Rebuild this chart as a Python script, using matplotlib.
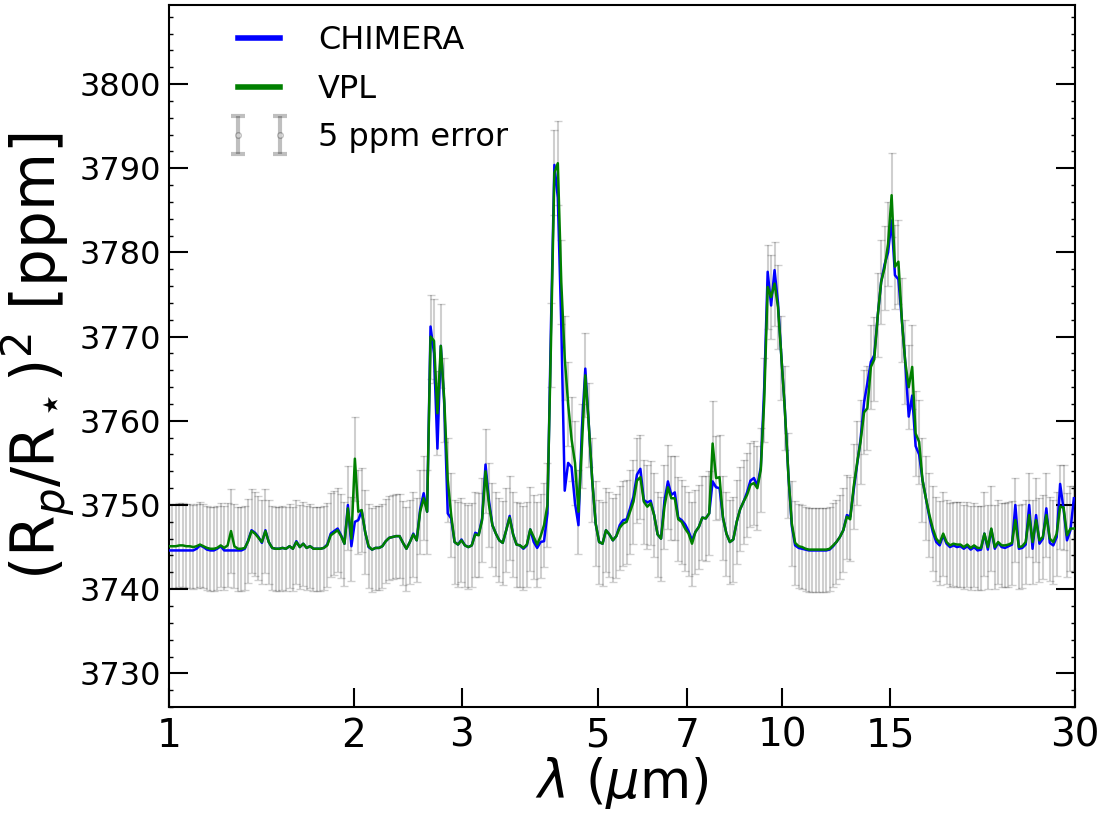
import matplotlib
matplotlib.use("Agg")
import matplotlib.pyplot as plt
from matplotlib.ticker import MultipleLocator, NullLocator, FixedLocator
from matplotlib.legend_handler import HandlerErrorbar
from matplotlib.container import ErrorbarContainer

wavelength = [
    1.000, 1.013, 1.026, 1.040, 1.053, 1.067, 1.081, 1.095, 1.109, 1.123, 1.138, 1.153, 1.168, 1.183, 1.198, 1.214, 1.230, 1.246, 1.262, 1.278,
    1.295, 1.312, 1.329, 1.346, 1.363, 1.381, 1.399, 1.417, 1.436, 1.454, 1.473, 1.492, 1.512, 1.531, 1.551, 1.572, 1.592, 1.613, 1.634, 1.655,
    1.676, 1.698, 1.720, 1.743, 1.765, 1.788, 1.811, 1.835, 1.859, 1.883, 1.908, 1.932, 1.957, 1.983, 2.009, 2.035, 2.061, 2.088, 2.115, 2.143,
    2.171, 2.199, 2.227, 2.256, 2.286, 2.315, 2.345, 2.376, 2.407, 2.438, 2.470, 2.502, 2.534, 2.567, 2.601, 2.635, 2.669, 2.704, 2.739, 2.774,
    2.810, 2.847, 2.884, 2.921, 2.959, 2.998, 3.037, 3.076, 3.116, 3.157, 3.198, 3.239, 3.281, 3.324, 3.367, 3.411, 3.455, 3.500, 3.546, 3.592,
    3.639, 3.686, 3.734, 3.782, 3.832, 3.881, 3.932, 3.983, 4.035, 4.087, 4.140, 4.194, 4.249, 4.304, 4.360, 4.417, 4.474, 4.532, 4.591, 4.651,
    4.711, 4.772, 4.835, 4.897, 4.961, 5.026, 5.091, 5.157, 5.224, 5.292, 5.361, 5.430, 5.501, 5.573, 5.645, 5.718, 5.793, 5.868, 5.944, 6.022,
    6.100, 6.179, 6.260, 6.341, 6.423, 6.507, 6.591, 6.677, 6.764, 6.852, 6.941, 7.031, 7.123, 7.215, 7.309, 7.404, 7.500, 7.598, 7.696, 7.797,
    7.898, 8.001, 8.105, 8.210, 8.317, 8.425, 8.534, 8.645, 8.758, 8.872, 8.987, 9.104, 9.222, 9.342, 9.463, 9.586, 9.711, 9.837, 9.965, 10.09,
    10.23, 10.36, 10.49, 10.63, 10.77, 10.91, 11.05, 11.19, 11.34, 11.49, 11.64, 11.79, 11.94, 12.10, 12.25, 12.41, 12.57, 12.74, 12.90, 13.07,
    13.24, 13.41, 13.59, 13.76, 13.94, 14.12, 14.31, 14.49, 14.68, 14.87, 15.07, 15.26, 15.46, 15.66, 15.86, 16.07, 16.28, 16.49, 16.71, 16.92,
    17.14, 17.37, 17.59, 17.82, 18.05, 18.29, 18.52, 18.76, 19.01, 19.26, 19.51, 19.76, 20.02, 20.28, 20.54, 20.81, 21.08, 21.35, 21.63, 21.91,
    22.20, 22.48, 22.78, 23.07, 23.37, 23.68, 23.98, 24.30, 24.61, 24.93, 25.26, 25.58, 25.92, 26.25, 26.59, 26.94, 27.29, 27.65, 28.01, 28.37,
    28.74, 29.11, 29.49, 29.87,
]

chimera_ppm = [
    3744.6, 3744.6, 3744.6, 3744.6, 3744.6, 3744.6, 3744.6, 3744.6, 3744.8, 3745.2, 3745.0, 3744.7, 3744.6, 3744.6, 3744.8, 3745.1, 3744.6, 3744.6, 3744.6, 3744.6,
    3744.6, 3744.6, 3744.8, 3745.8, 3747.0, 3746.7, 3746.2, 3745.5, 3747.0, 3745.6, 3744.9, 3744.8, 3744.8, 3744.9, 3744.8, 3745.1, 3744.8, 3745.7, 3745.0, 3745.4,
    3744.9, 3745.1, 3744.8, 3744.8, 3744.8, 3744.9, 3745.3, 3746.6, 3746.9, 3747.2, 3746.4, 3745.4, 3750.0, 3745.1, 3748.0, 3748.2, 3749.3, 3746.8, 3745.0, 3744.7,
    3744.9, 3744.9, 3745.1, 3745.7, 3746.1, 3746.2, 3746.3, 3746.3, 3745.5, 3744.8, 3745.6, 3746.6, 3745.8, 3749.5, 3751.4, 3749.2, 3771.2, 3768.0, 3756.7, 3768.9,
    3762.0, 3749.0, 3748.4, 3745.6, 3745.3, 3745.9, 3745.2, 3745.0, 3745.2, 3746.7, 3746.5, 3748.4, 3754.8, 3750.5, 3747.6, 3746.6, 3745.8, 3745.5, 3747.0, 3748.7,
    3746.5, 3745.3, 3745.2, 3744.8, 3745.2, 3747.1, 3745.6, 3744.9, 3745.6, 3745.7, 3749.0, 3771.0, 3790.4, 3786.5, 3771.5, 3751.7, 3755.0, 3754.5, 3750.2, 3747.6,
    3759.0, 3766.2, 3759.5, 3753.0, 3747.8, 3745.6, 3745.4, 3747.0, 3746.5, 3745.8, 3746.3, 3747.6, 3748.2, 3748.3, 3749.6, 3751.0, 3753.6, 3754.3, 3750.6, 3750.3,
    3750.5, 3748.8, 3746.5, 3746.0, 3750.5, 3752.8, 3751.2, 3751.5, 3748.5, 3748.2, 3747.7, 3746.9, 3745.8, 3746.8, 3747.4, 3748.5, 3748.4, 3749.0, 3752.8, 3752.1,
    3752.0, 3748.5, 3746.6, 3745.6, 3745.9, 3748.0, 3749.5, 3750.4, 3751.5, 3752.9, 3753.2, 3752.3, 3754.5, 3764.0, 3777.7, 3773.7, 3777.9, 3774.0, 3767.5, 3761.5,
    3753.5, 3747.5, 3745.2, 3744.9, 3744.8, 3744.7, 3744.6, 3744.6, 3744.6, 3744.6, 3744.6, 3744.6, 3744.7, 3745.1, 3745.6, 3746.2, 3747.0, 3748.8, 3748.6, 3751.8,
    3754.8, 3757.8, 3762.2, 3764.5, 3767.0, 3767.8, 3772.6, 3776.5, 3778.6, 3780.0, 3783.8, 3777.3, 3776.8, 3772.0, 3767.0, 3760.5, 3763.0, 3757.0, 3756.0, 3753.0,
    3750.8, 3748.5, 3746.8, 3745.6, 3745.2, 3746.4, 3745.4, 3745.0, 3745.2, 3745.0, 3745.1, 3744.8, 3745.1, 3744.7, 3745.0, 3744.6, 3744.7, 3746.6, 3744.7, 3747.1,
    3744.8, 3745.5, 3745.0, 3744.9, 3745.1, 3745.3, 3750.0, 3744.8, 3744.9, 3745.3, 3750.0, 3744.8, 3748.8, 3745.4, 3746.0, 3749.6, 3745.5, 3745.2, 3746.2, 3752.5,
    3749.5, 3745.8, 3747.0, 3750.8,
]

vpl_ppm = [
    3745.1, 3745.1, 3745.1, 3745.2, 3745.2, 3745.1, 3745.1, 3745.0, 3745.1, 3745.3, 3745.1, 3744.9, 3744.8, 3744.8, 3744.9, 3745.2, 3744.9, 3745.2, 3746.9, 3745.1,
    3744.8, 3744.8, 3744.9, 3745.7, 3746.9, 3746.6, 3746.1, 3745.6, 3746.9, 3745.6, 3744.9, 3744.8, 3744.8, 3744.9, 3744.8, 3745.1, 3744.8, 3745.6, 3745.0, 3745.4,
    3744.9, 3745.1, 3744.8, 3744.8, 3744.8, 3744.9, 3745.2, 3746.4, 3746.7, 3747.0, 3746.3, 3745.4, 3749.6, 3746.0, 3755.5, 3749.2, 3749.4, 3746.8, 3745.1, 3744.7,
    3744.9, 3744.9, 3745.1, 3745.7, 3746.1, 3746.2, 3746.3, 3746.3, 3745.5, 3744.8, 3745.6, 3746.5, 3745.8, 3749.2, 3750.8, 3749.2, 3770.0, 3769.5, 3760.9, 3768.9,
    3762.5, 3753.0, 3748.8, 3745.6, 3745.3, 3745.8, 3745.2, 3745.0, 3745.2, 3746.5, 3746.4, 3748.2, 3754.0, 3750.0, 3747.6, 3746.6, 3745.8, 3745.5, 3747.0, 3748.5,
    3746.5, 3745.3, 3745.2, 3744.9, 3745.3, 3747.1, 3746.2, 3745.3, 3746.3, 3747.6, 3750.0, 3769.0, 3789.5, 3790.6, 3776.5, 3767.5, 3762.0, 3757.8, 3755.0, 3749.2,
    3757.0, 3765.4, 3759.5, 3753.0, 3747.8, 3745.6, 3745.4, 3747.0, 3746.5, 3745.8, 3746.3, 3747.3, 3747.8, 3748.0, 3749.2, 3750.4, 3752.9, 3753.3, 3750.4, 3749.8,
    3750.2, 3748.8, 3746.5, 3746.0, 3749.8, 3752.1, 3750.8, 3750.8, 3748.3, 3748.0, 3747.2, 3746.6, 3745.4, 3746.8, 3747.4, 3748.5, 3748.4, 3749.0, 3757.3, 3753.2,
    3753.3, 3748.5, 3746.6, 3745.6, 3745.9, 3748.0, 3749.5, 3750.4, 3751.2, 3752.4, 3752.6, 3752.0, 3754.2, 3762.5, 3775.9, 3774.7, 3776.3, 3773.5, 3767.5, 3761.5,
    3753.5, 3747.8, 3745.5, 3745.1, 3745.0, 3744.8, 3744.7, 3744.7, 3744.7, 3744.7, 3744.7, 3744.7, 3744.8, 3745.2, 3745.6, 3746.2, 3747.0, 3748.6, 3748.3, 3752.2,
    3755.0, 3757.5, 3761.0, 3761.5, 3766.4, 3767.3, 3772.6, 3776.5, 3778.2, 3781.0, 3786.8, 3778.3, 3778.9, 3772.0, 3767.0, 3764.0, 3766.4, 3758.5, 3757.5, 3753.0,
    3750.8, 3748.8, 3747.2, 3746.0, 3745.5, 3746.6, 3745.6, 3745.2, 3745.4, 3745.3, 3745.3, 3745.0, 3745.3, 3744.9, 3745.2, 3744.9, 3744.9, 3746.6, 3745.0, 3747.2,
    3745.0, 3745.6, 3745.2, 3745.2, 3745.3, 3745.5, 3748.2, 3745.0, 3745.1, 3745.6, 3748.8, 3745.6, 3748.2, 3745.8, 3746.2, 3748.8, 3746.0, 3745.6, 3746.6, 3749.8,
    3749.7, 3746.4, 3747.2, 3747.2,
]

error_ppm = 5.0

x_ticks = [1, 2, 3, 5, 7, 10, 15, 30]
x_tick_labels = ["1", "2", "3", "5", "7", "10", "15", "30"]

assert len(wavelength) == len(chimera_ppm) == len(vpl_ppm)

fig = plt.figure(figsize=(11.07, 8.15), dpi=100)
ax = fig.add_axes([0.1527, 0.1325, 0.8184, 0.8614])

ax.errorbar(wavelength, vpl_ppm, yerr=error_ppm, fmt="none", ecolor="k",
            alpha=0.19, elinewidth=1.5, capsize=3, capthick=1.0, zorder=1)
ax.plot(wavelength, chimera_ppm, color="b", lw=1.8, zorder=3)
ax.plot(wavelength, vpl_ppm, color="g", lw=1.8, zorder=4)

# legend proxies (outside the visible range)
h1, = ax.plot([0.1, 0.11], [3700, 3700], color="b", lw=4, label="CHIMERA")
h2, = ax.plot([0.1, 0.11], [3700, 3700], color="g", lw=4, label="VPL")
h3 = ax.errorbar([0.1], [3700], yerr=[error_ppm], fmt="o", color="k", ms=4,
                 mfc="w", alpha=0.25, elinewidth=3, capsize=5, capthick=3,
                 label="5 ppm error")

ax.set_xscale("log")
ax.set_xlim(1, 30)
ax.set_ylim(3726, 3809.4)

ax.xaxis.set_major_locator(FixedLocator(x_ticks))
ax.set_xticklabels(x_tick_labels)
ax.xaxis.set_minor_locator(NullLocator())
ax.yaxis.set_major_locator(MultipleLocator(10))
ax.yaxis.set_minor_locator(MultipleLocator(2))

ax.tick_params(axis="both", which="major", direction="in", length=14, width=1.5,
               right=True, top=False)
ax.tick_params(axis="both", which="minor", direction="in", length=3, width=1.0,
               right=True, top=False)
ax.tick_params(axis="y", labelsize=23, pad=6)
ax.tick_params(axis="x", labelsize=28, pad=7)
for s in ax.spines.values():
    s.set_linewidth(1.5)

ax.set_xlabel(r"$\lambda$ ($\mu$m)", fontsize=38)
ax.set_ylabel(r"(R$_p$/R$_\star$)$^2$ [ppm]", fontsize=43)
ax.xaxis.set_label_coords(0.5, -0.068)
ax.yaxis.set_label_coords(-0.1, 0.5)

ax.legend(handles=[h1, h2, h3], loc="upper left", bbox_to_anchor=(0.034, 1.012),
          frameon=False, fontsize=23, numpoints=2, handlelength=1.9,
          handletextpad=0.9, labelspacing=0.55,
          handler_map={ErrorbarContainer: HandlerErrorbar(yerr_size=0.6)})

fig.savefig("out.png", dpi=100)
